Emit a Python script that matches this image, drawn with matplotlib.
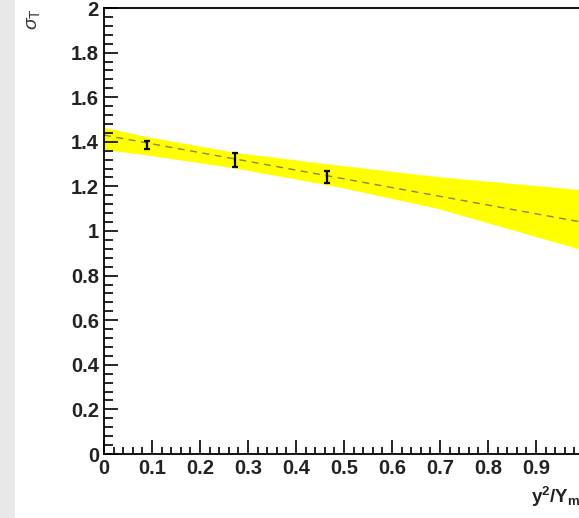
import numpy as np
import matplotlib
matplotlib.use("Agg")
import matplotlib.pyplot as plt
from matplotlib.patches import Rectangle

# measured points
x_pts = [0.089, 0.273, 0.465]
y_pts = [1.386, 1.318, 1.243]
y_err = [0.017, 0.030, 0.026]

# fitted line (end points)
line_x = [0.0, 1.0]
line_y = [1.430, 1.038]

# confidence band edges
band_x = [0.0, 0.09, 0.278, 0.486, 0.694, 0.986, 1.0]
band_lo = [1.366, 1.341, 1.281, 1.199, 1.102, 0.922, 0.913]
band_hi = [1.465, 1.423, 1.351, 1.296, 1.244, 1.187, 1.185]

W, H = 579, 518
plt.rcParams['font.family'] = ['Liberation Sans', 'DejaVu Sans']
plt.rcParams['mathtext.fontset'] = 'custom'
plt.rcParams['mathtext.rm'] = 'Liberation Sans'
plt.rcParams['mathtext.it'] = 'Liberation Sans:italic'
plt.rcParams['mathtext.bf'] = 'Liberation Sans:bold'

fig = plt.figure(figsize=(W / 100, H / 100), dpi=100)
fig.patches.append(Rectangle((0, 0), 15 / W, 1, transform=fig.transFigure,
                             facecolor='#e8e8e8', edgecolor='none', zorder=0))

ax = fig.add_axes([104 / W, (H - 454) / H, 480 / W, (454 - 8) / H])
ax.fill_between(band_x, band_lo, band_hi, color='#ffff00', linewidth=0, zorder=1)
ax.plot(line_x, line_y, color='#858540', linewidth=1.0, dashes=(5, 4), zorder=2)
ax.errorbar(x_pts, y_pts, yerr=y_err, fmt='none', ecolor='black',
            elinewidth=1.6, capsize=2.2, capthick=1.6, zorder=3)

ax.set_xlim(0, 1)
ax.set_ylim(0, 2)
ax.set_xticks(np.arange(0, 1.0, 0.1))
ax.set_xticklabels(['0', '0.1', '0.2', '0.3', '0.4', '0.5', '0.6', '0.7', '0.8', '0.9'])
ax.set_xticks(np.arange(0, 1.001, 0.02), minor=True)
ax.set_yticks(np.arange(0, 2.01, 0.2))
ax.set_yticklabels(['0', '0.2', '0.4', '0.6', '0.8', '1', '1.2', '1.4', '1.6', '1.8', '2'])
ax.set_yticks(np.arange(0, 2.001, 0.04), minor=True)

ax.tick_params(which='both', direction='in', top=False, right=False, width=1.2)
ax.tick_params(axis='both', which='major', length=10, pad=3.6, labelsize=14.5)
ax.tick_params(axis='x', which='minor', length=5)
ax.tick_params(axis='y', which='minor', length=6.5)
for lab in ax.get_xticklabels() + ax.get_yticklabels():
    lab.set_fontweight('bold')
    lab.set_color('#222222')
for s in ax.spines.values():
    s.set_linewidth(1.3)

fig.text(34 / W, 1 - 8 / H, r'$\sigma_{\mathregular{T}}$', rotation=90, ha='center', va='top',
         fontsize=14, color='#333333')
fig.text(531 / W, 1 - 503 / H, r'y$^{\mathregular{2}}$/Y$_{\mathregular{max}}$',
         ha='left', va='baseline', fontsize=13.5, fontweight='bold', color='#222222')

fig.savefig('out.png', dpi=100)
